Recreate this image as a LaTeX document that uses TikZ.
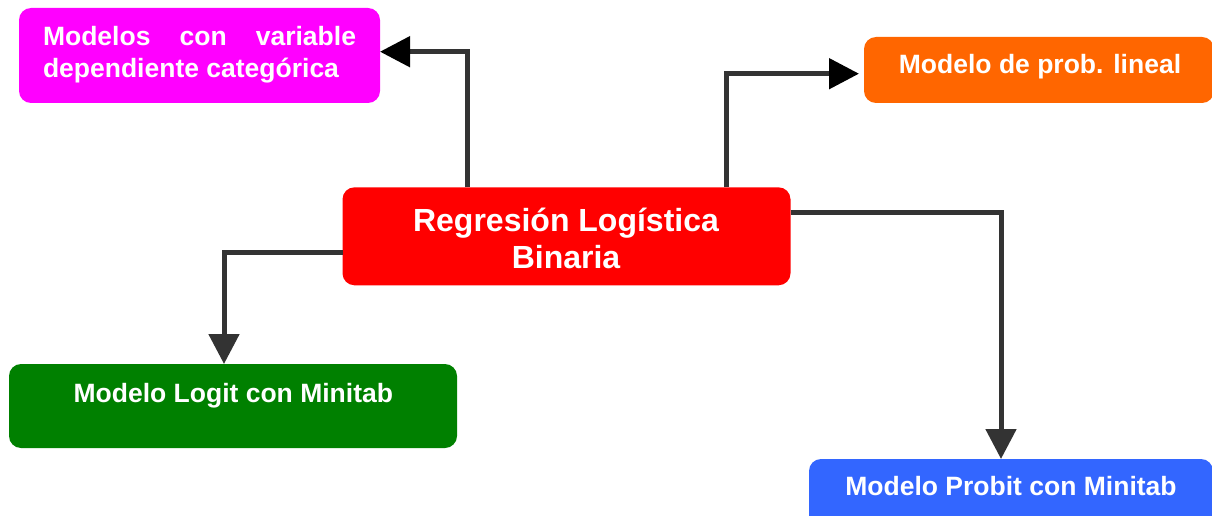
\documentclass[tikz,border=0pt]{standalone}
\usepackage{fontspec}
\setmainfont{Liberation Sans}
\usetikzlibrary{arrows.meta,calc}
\definecolor{magc}{HTML}{FF00FF}
\definecolor{orac}{HTML}{FF6600}
\definecolor{redc}{HTML}{FF0000}
\definecolor{grec}{HTML}{008000}
\definecolor{bluc}{HTML}{3366FF}
\definecolor{linec}{HTML}{333333}
\tikzset{
  box/.style={rectangle, rounded corners=12pt, draw=none, inner sep=0pt, outer sep=0pt},
  txt/.style={text=white, inner sep=0pt, outer sep=0pt, font=\fontsize{26.5}{31}\selectfont\bfseries},
  bigtxt/.style={text=white, inner sep=0pt, outer sep=0pt, font=\fontsize{32}{37}\selectfont\bfseries},
  conn/.style={draw=linec, line width=5pt, line join=miter},
  headk/.style={-{Triangle[length=30pt,width=30pt,color=black]}},
  headg/.style={-{Triangle[length=30pt,width=30pt,color=linec]}},
}
\begin{document}
\begin{tikzpicture}[x=1pt,y=-1pt]
\useasboundingbox (0,0) rectangle (1212,516);
\clip (0,0) rectangle (1212,516);
% boxes
\node[box, fill=magc, minimum width=361pt, minimum height=95pt] (mag) at (199.5,55.5) {};
\node[box, fill=orac, minimum width=350pt, minimum height=66pt] (ora) at (1039,70) {};
\node[box, fill=redc, minimum width=448pt, minimum height=98pt] (red) at (566.5,236.3) {};
\node[box, fill=grec, minimum width=448pt, minimum height=84pt] (green) at (233,406) {};
\node[box, fill=bluc, minimum width=404pt, minimum height=70pt] (blue) at (1011,494) {};
% texts
\node[txt, anchor=base west] (magA) at (43,45.7) {\makebox[313pt][s]{Modelos con variable}};
\node[txt, anchor=base west] (magB) at (43,77.7) {dependiente categórica};
\node[txt, anchor=base] (oraT) at (1040,74) {Modelo de prob. lineal};
\node[bigtxt, anchor=base] (redA) at (566,231.7) {Regresión Logística};
\node[bigtxt, anchor=base] (redB) at (566,268.3) {Binaria};
\node[txt, anchor=base] (greenT) at (233.3,402.3) {Modelo Logit con Minitab};
\node[txt, anchor=base] (blueT) at (1011,495) {Modelo Probit con Minitab};
% connector bends
\coordinate (c1) at (467,51.7);
\coordinate (c2) at (726.3,73.7);
\coordinate (c3) at (224,252.5);
\coordinate (c4) at (1001,212);
\draw[conn, headk] (red.north -| c1) -- (c1) -- (c1 -| mag.east);
\draw[conn, headk, shorten >=5pt] (red.north -| c2) -- (c2) -- (c2 -| ora.west);
\draw[conn, headg] (c3 -| red.west) -- (c3) -- (c3 |- green.north);
\draw[conn, headg] (c4 -| red.east) -- (c4) -- (c4 |- blue.north);
\end{tikzpicture}
\end{document}
